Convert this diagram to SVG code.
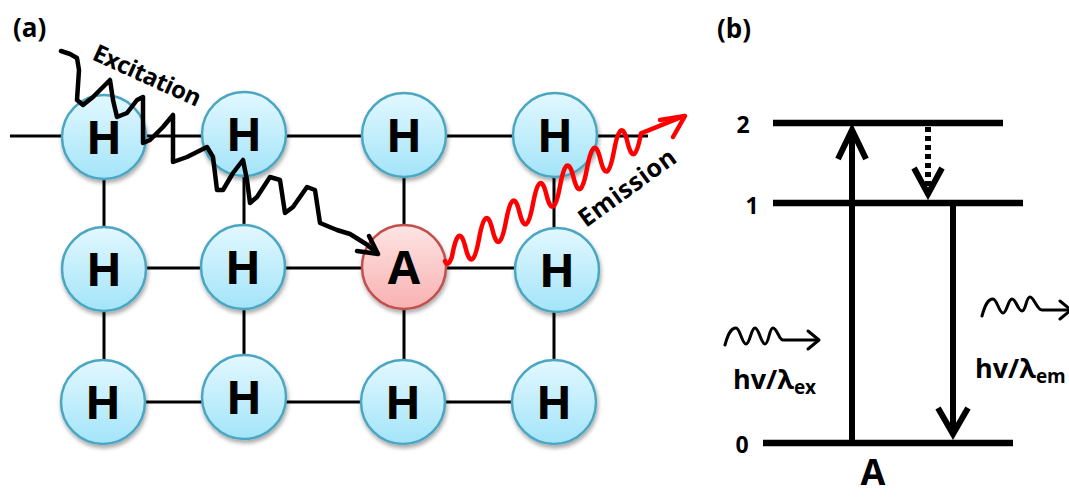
<svg xmlns="http://www.w3.org/2000/svg" width="1069" height="497" viewBox="0 0 1069 497">
<style>
.lbl{font-family:"Open Sans","Liberation Sans",sans-serif;font-weight:700;fill:#000}
.atom{font-family:"Open Sans","Liberation Sans",sans-serif;font-weight:700;font-size:47px;text-anchor:middle;fill:#000}
.bond{stroke:#000;stroke-width:3;fill:none}
.hc{fill:url(#gH);stroke:#4ba6c2;stroke-width:2.5;filter:url(#sh)}
.ac{fill:url(#gA);stroke:#c0504d;stroke-width:2.5;filter:url(#sh)}
.lev{stroke:#000;stroke-width:6.5;fill:none}
.tr{stroke:#000;stroke-width:6;fill:none;stroke-linejoin:miter}
.wav{stroke:#000;stroke-width:3;fill:none;stroke-linecap:round;stroke-linejoin:round}
.exc{stroke:#000;stroke-width:4.5;fill:none;stroke-linecap:round;stroke-linejoin:round}
.emi{stroke:#ff0000;stroke-width:4.5;fill:none;stroke-linecap:round;stroke-linejoin:round}
</style>
<defs>
<linearGradient id="gH" x1="0" y1="0" x2="0" y2="1">
<stop offset="0" stop-color="#e2f8ff"/><stop offset="1" stop-color="#a3e4f9"/>
</linearGradient>
<linearGradient id="gA" x1="0" y1="0" x2="0" y2="1">
<stop offset="0" stop-color="#ffe4e4"/><stop offset="1" stop-color="#f8b1b1"/>
</linearGradient>
<filter id="sh" x="-20%" y="-20%" width="150%" height="150%">
<feDropShadow dx="1" dy="3" stdDeviation="2" flood-color="#000" flood-opacity="0.35"/>
</filter>
</defs>

<text class="lbl" x="13" y="37" font-size="26">(a)</text>
<text class="lbl" x="717" y="38" font-size="26">(b)</text>

<g id="bonds">
<path class="bond" d="M10,136 L648,136 M104,268 L557,268 M104,402 L554,402 M104,136 L104,402 M244,136 L244,402 M404,136 L404,402 M554,136 L554,402"/>
</g>

<g id="H11"><circle class="hc" cx="104" cy="137" r="42"/><text class="atom" x="104" y="154">H</text></g>
<g id="H12"><circle class="hc" cx="244" cy="134" r="42"/><text class="atom" x="244" y="151">H</text></g>
<g id="H13"><circle class="hc" cx="404" cy="135" r="42"/><text class="atom" x="404" y="152">H</text></g>
<g id="H14"><circle class="hc" cx="555" cy="135" r="42"/><text class="atom" x="555" y="152">H</text></g>
<g id="H21"><circle class="hc" cx="104" cy="269" r="42"/><text class="atom" x="104" y="286">H</text></g>
<g id="H22"><circle class="hc" cx="243" cy="267" r="42"/><text class="atom" x="243" y="284">H</text></g>
<g id="A"><circle class="ac" cx="404" cy="267" r="42"/><text class="atom" x="404" y="284">A</text></g>
<g id="H24"><circle class="hc" cx="557" cy="270" r="42"/><text class="atom" x="557" y="287">H</text></g>
<g id="H31"><circle class="hc" cx="103" cy="402" r="42"/><text class="atom" x="103" y="419">H</text></g>
<g id="H32"><circle class="hc" cx="244" cy="397" r="42"/><text class="atom" x="244" y="414">H</text></g>
<g id="H33"><circle class="hc" cx="403" cy="402" r="42"/><text class="atom" x="403" y="419">H</text></g>
<g id="H34"><circle class="hc" cx="554" cy="402" r="42"/><text class="atom" x="554" y="419">H</text></g>

<g id="connectors">
<polyline class="exc" points="61,51 70,54 77,58 79,70 78,85 77,100 83,105 93,97 103,87 110,80 113,100 117,117 127,113 137,100 143,97 143,117 143,143 150,140 163,127 173,115 173,133 173,162 187,157 207,147 213,157 217,190 223,190 233,173 243,160 247,180 250,203 257,197 270,177 280,180 285,213 293,207 307,187 315,190 320,223 337,230 350,234 366,244 376,252"/>
<path class="exc" d="M369,236 L378,254 L357,251"/>
<path class="emi" d="M445,261 Q448,268 452,256.4 Q458.75,220 465.5,247.6 T479,238.8 T492.5,230 T506,221.2 T519.5,212.4 T533,203.7 T546.5,194.9 T560,186.1 T573.5,177.3 T587,168.5 T600.5,159.7 T614,150.9 T627.5,142.2 T641,133.4 L684,116"/>
<path class="emi" d="M660,120 L685,116 L673,137"/>
</g>

<text class="lbl" font-size="24" transform="translate(91,59) rotate(24.5)" textLength="116">Excitation</text>
<text class="lbl" font-size="25" transform="translate(586,228) rotate(-36)" textLength="114">Emission</text>

<g id="levels">
<path class="lev" d="M773,123 L1003,123"/>
<path class="lev" d="M773,203 L1023,203"/>
<path class="lev" d="M763,443 L1013,443"/>
<text class="lbl" x="743" y="133" font-size="23" text-anchor="middle">2</text>
<text class="lbl" x="752" y="214" font-size="23" text-anchor="middle">1</text>
<text class="lbl" x="742" y="453" font-size="23" text-anchor="middle">0</text>
</g>

<g id="transitions">
<path class="tr" d="M852,443 L852,130"/>
<path class="tr" d="M838,159 L852,130 L866,159"/>
<path class="tr" d="M928,127 L928,192" stroke-dasharray="5 4"/>
<path class="tr" d="M914,168 L928,194 L942,168"/>
<path class="tr" d="M953,206 L953,432"/>
<path class="tr" d="M938,408 L953,434 L968,408"/>
</g>

<g id="photon-ex">
<path class="wav" d="M725,345 C728,334 731,328 736,328 C740,328 742,344 746,344 C750,344 751,328 755,328 C759,328 761,344 765,344 C769,344 769,328 773,328 C777,328 779,340 783,340 L818,340"/>
<path class="wav" d="M808,331 L819,340 L808,349"/>
</g>
<g id="photon-em">
<path class="wav" d="M982,316 C985,305 988,299 993,299 C997,299 999,313 1003,313 C1007,313 1008,299 1012,299 C1016,299 1018,311 1022,311 C1026,311 1026,297 1030,297 C1034,297 1037,310 1042,310 L1069,310"/>
<path class="wav" d="M1060,301 L1071,310 L1060,319"/>
</g>

<text class="lbl" x="733" y="389" font-size="27">hv/λ<tspan font-size="19" dy="5">ex</tspan></text>
<text class="lbl" x="975" y="378" font-size="27">hv/λ<tspan font-size="19" dy="5">em</tspan></text>
<text class="lbl" x="873" y="485" font-size="36" text-anchor="middle">A</text>
</svg>
